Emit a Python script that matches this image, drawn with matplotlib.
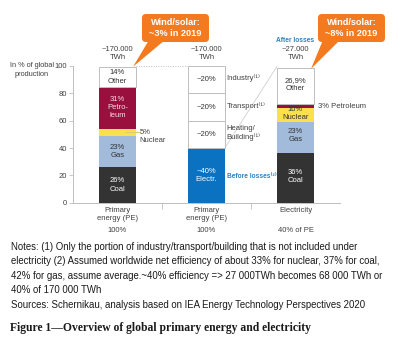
import matplotlib
matplotlib.use('Agg')
import matplotlib.pyplot as plt
from matplotlib.patches import FancyBboxPatch, Polygon

# ---------------- data ----------------
categories = ['Primary\nenergy (PE)', 'Primary\nenergy (PE)', 'Electricity']
sub_labels = ['100%', '100%', '40% of PE']
totals = ['~170.000\nTWh', '~170.000\nTWh', '~27.000\nTWh']

pe_names = ['Coal', 'Gas', 'Nuclear', 'Petroleum', 'Other']
pe_values = [26, 23, 5, 31, 14]
pe_labels = ['26%\nCoal', '23%\nGas', '', '31%\nPetro-\nleum', '14%\nOther']

use_names = ['Electr.', 'Heating/Building', 'Transport', 'Industry']
use_values = [40, 20, 20, 20]
use_labels = ['~40%\nElectr.', '~20%', '~20%', '~20%']
use_side = ['Before losses⁽²⁾', 'Heating/\nBuilding⁽¹⁾', 'Transport⁽¹⁾', 'Industry⁽¹⁾']

el_names = ['Coal', 'Gas', 'Nuclear', 'Petroleum', 'Other']
el_values = [36, 23, 10, 3, 26.9]
el_labels = ['36%\nCoal', '23%\nGas', '10%\nNuclear', '', '26,9%\nOther']

yticks = [0, 20, 40, 60, 80, 100]

# ---------------- style ----------------
W, H = 419, 346
plt.rcParams['font.family'] = ['Liberation Sans', 'DejaVu Sans']
TXT = '#404040'
GRID = '#BFBFBF'
colors = {'Coal': '#333333', 'Gas': '#A2BBDB', 'Nuclear': '#FBE04C',
          'Petroleum': '#990F3D', 'Other': 'white', 'Electr.': '#0A72C0',
          'Heating/Building': 'white', 'Transport': 'white', 'Industry': 'white'}
txtcol = {'Coal': 'white', 'Gas': '#333333', 'Nuclear': '#333333',
          'Petroleum': '#F6DCE4', 'Other': '#333333', 'Electr.': 'white',
          'Heating/Building': '#333333', 'Transport': '#333333', 'Industry': '#333333'}
ORANGE = '#F47A20'
BLUE_TXT = '#2D83BE'
FS = 5.2
BW = 0.41

fig = plt.figure(figsize=(W / 100, H / 100), dpi=100)
ax = fig.add_axes([73 / W, 1 - 202.7 / H, 267 / W, 136.7 / H])
ax.set_xlim(-0.5, 2.5)
ax.set_ylim(0, 100)


def stack(ax, x, names, values, labels, offsets=None):
    bottom = 0
    for i, (n, v, lab) in enumerate(zip(names, values, labels)):
        white = colors[n] == 'white'
        ax.bar(x, v, BW, bottom=bottom, color=colors[n],
               edgecolor=GRID if white else 'none', linewidth=0.7, zorder=2)
        if lab:
            dy = offsets[i] if offsets else 0
            ax.text(x, bottom + v / 2 + dy, lab, ha='center', va='center',
                    fontsize=FS + 0.3, color=txtcol[n], linespacing=1.25, zorder=3)
        bottom += v
    return bottom


stack(ax, 0, pe_names, pe_values, pe_labels)
stack(ax, 1, use_names, use_values, use_labels)
stack(ax, 2, el_names, el_values, el_labels, offsets=[1, 1.5, 1.5, 0, 1])

# nuclear leader line on PE bar
nuc_mid = pe_values[0] + pe_values[1] + pe_values[2] / 2
ax.plot([0.1, BW / 2 + 0.05], [nuc_mid, nuc_mid], color='#D9CB7A', lw=0.8,
        zorder=3, clip_on=False)
ax.text(BW / 2 + 0.04, nuc_mid - 3, '5%\nNuclear', ha='left', va='center',
        fontsize=FS + 0.3, color=TXT, linespacing=1.25)

# petroleum on electricity bar
pet_mid = sum(el_values[:3]) + el_values[3] / 2
ax.text(2 + BW / 2 + 0.05, pet_mid, '3% Petroleum', ha='left', va='center',
        fontsize=FS + 0.3, color=TXT)

# side labels for bar 2
side_y = [19, 51, 71, 91]
for lab, yv in zip(use_side, side_y):
    bold = lab.startswith('Before')
    ax.text(1 + BW / 2 + 0.02, yv, lab, ha='left', va='center',
            fontsize=FS - 0.4 if bold else FS + 0.3,
            color=BLUE_TXT if bold else TXT,
            fontweight='bold' if bold else 'normal', linespacing=1.2)

# dotted line between bar 1 and 2 at 100
ax.plot([BW / 2, 1 - BW / 2], [100, 100], color=GRID, lw=0.7, ls=(0, (1, 1.5)),
        zorder=1)
# diagonal connector from electricity bar top to Electr. segment
ax.plot([2 - BW / 2, 1 + BW / 2], [100, use_values[0]], color='#D0D0D0', lw=0.6,
        zorder=1)

# totals above bars
for i, t in enumerate(totals):
    ax.text(i, 109.3, t, ha='center', va='center', fontsize=FS + 0.3,
            color=TXT, linespacing=1.2, clip_on=False)
ax.text(2, 118.5, 'After losses', ha='center', va='center', fontsize=FS - 0.4,
        color=BLUE_TXT, fontweight='bold')

# category labels
for i, (c, s) in enumerate(zip(categories, sub_labels)):
    yc = -8.6 if '\n' in c else -5.6
    ax.text(i, yc, c, ha='center', va='center', fontsize=FS + 0.3, color=TXT,
            linespacing=1.25)
    ax.text(i, -20.5, s, ha='center', va='center', fontsize=FS + 0.3, color=TXT)

# axes styling
for s in ['top', 'right']:
    ax.spines[s].set_visible(False)
ax.spines['left'].set_color(GRID)
ax.spines['bottom'].set_color(GRID)
ax.spines['left'].set_linewidth(0.7)
ax.spines['bottom'].set_linewidth(0.7)
ax.set_yticks(yticks)
ax.set_yticklabels([str(v) for v in yticks])
ax.tick_params(axis='y', length=3, width=0.6, color=GRID, labelsize=FS + 0.3,
               labelcolor=TXT, pad=1.5)
ax.set_xticks([])
ax.set_xticks([0.5, 1.5], minor=True)
ax.tick_params(axis='x', which='minor', length=4, width=0.6, color=GRID,
               direction='out')

# ---------------- overlay (pixel coordinates) ----------------
ov = fig.add_axes([0, 0, 1, 1], zorder=5)
ov.set_xlim(0, W)
ov.set_ylim(H, 0)
ov.axis('off')

ov.text(32, 70, 'In % of global\nproduction', ha='center', va='center',
        fontsize=FS + 0.1, color=TXT, linespacing=1.35)


def to_px(x, y):
    d = ax.transData.transform((x, y))
    return ov.transData.inverted().transform(d)


def callout(x0, text, tip, base):
    box = FancyBboxPatch((x0, 14), 67, 28,
                         boxstyle='round,pad=0,rounding_size=4',
                         fc=ORANGE, ec='none')
    ov.add_patch(box)
    ov.add_patch(Polygon([(base[0], 40), (base[1], 40), tuple(tip)],
                         closed=True, fc=ORANGE, ec='none'))
    ov.text(x0 + 33.5, 28, text, ha='center', va='center', color='white',
            fontweight='bold', fontsize=6.6, linespacing=1.3)


callout(142, 'Wind/solar:\n~3% in 2019', to_px(BW / 2 - 0.03, 99.5), (149, 165))
callout(318, 'Wind/solar:\n~8% in 2019', to_px(2 + BW / 2 - 0.03, 98), (323, 340))

notes = ('Notes: (1) Only the portion of industry/transport/building that is not included under\n'
         'electricity (2) Assumed worldwide net efficiency of about 33% for nuclear, 37% for coal,\n'
         '42% for gas, assume average.~40% efficiency => 27 000TWh becomes 68 000 TWh or\n'
         '40% of 170 000 TWh\n'
         'Sources: Schernikau, analysis based on IEA Energy Technology Perspectives 2020')
ov.text(11, 242, notes, ha='left', va='top', fontsize=6.9, color='#1A1A1A',
        linespacing=1.55)

ov.text(10, 327.5, 'Figure 1—Overview of global primary energy and electricity',
        ha='left', va='center', fontsize=8.35, fontweight='bold',
        family=['Liberation Serif', 'DejaVu Serif'], color='#1A1A1A')

fig.savefig('out.png', dpi=100, facecolor='white')
